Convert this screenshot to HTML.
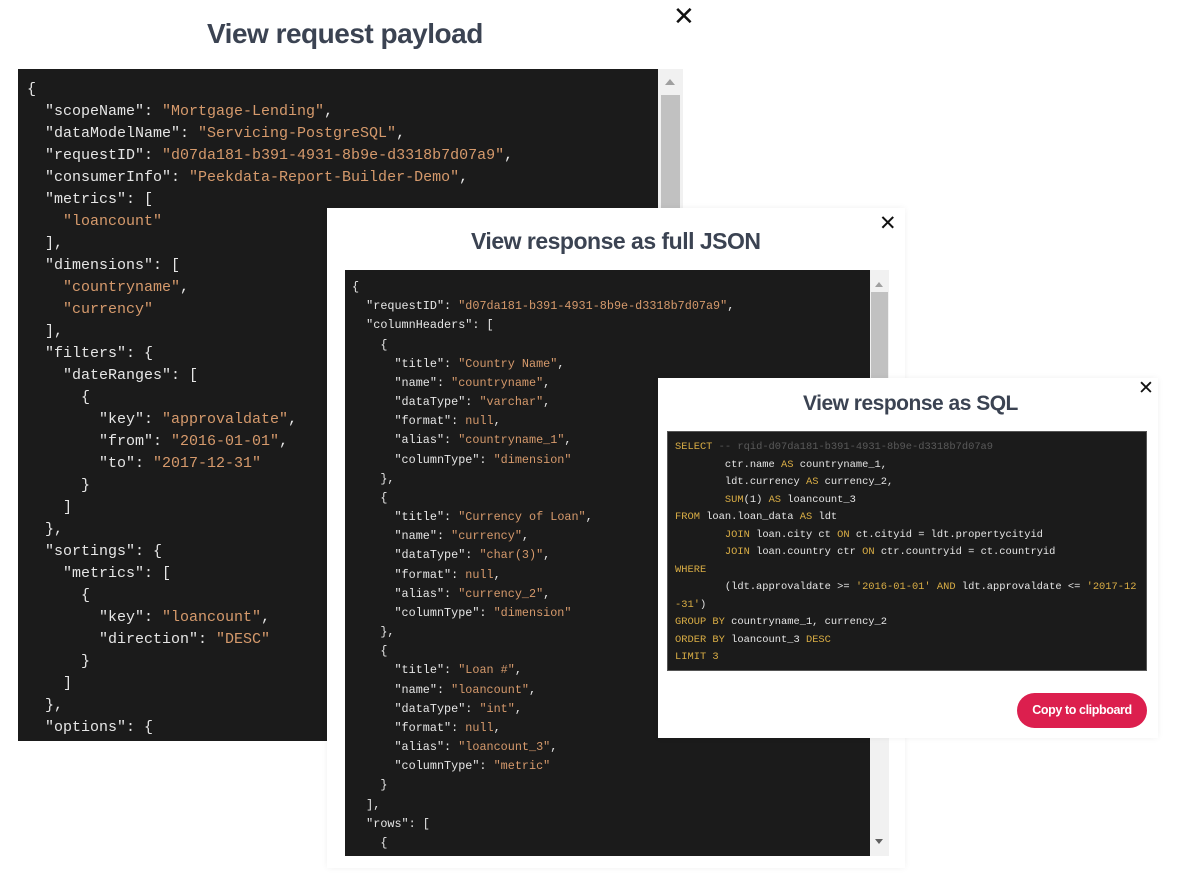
<!DOCTYPE html>
<html><head><meta charset="utf-8"><style>
body{margin:0;width:1200px;height:878px;background:#fff;position:relative;overflow:hidden;font-family:"Liberation Sans",sans-serif}
.t{position:absolute;color:#3b4352;font-weight:bold;letter-spacing:-0.5px;white-space:nowrap}
.x{position:absolute;font-size:26px;color:#111;font-family:"DejaVu Sans",sans-serif;line-height:1}
pre{margin:0;position:absolute;background:#1b1b1b;color:#e6e6e6;font-family:"Liberation Mono",monospace;overflow:hidden;white-space:pre}
.s{color:#d69a6c}.k{color:#d9ad45}.c{color:#5a5a5a}
.sb{position:absolute;background:#f1f1f1}
.th{position:absolute;background:#c1c1c1}
.w{position:absolute;background:#fff;box-shadow:0 0 6px rgba(0,0,0,0.06)}
</style></head><body>
<div class="t" style="left:207px;top:18px;font-size:28px">View request payload</div>
<div class="x" style="left:673px;top:4px">✕</div>
<pre style="left:18px;top:69px;width:640px;height:672px;font-size:15px;line-height:22px;padding:10px 0 0 9px;box-sizing:border-box">{
  "scopeName": <span class="s">"Mortgage-Lending"</span>,
  "dataModelName": <span class="s">"Servicing-PostgreSQL"</span>,
  "requestID": <span class="s">"d07da181-b391-4931-8b9e-d3318b7d07a9"</span>,
  "consumerInfo": <span class="s">"Peekdata-Report-Builder-Demo"</span>,
  "metrics": [
    <span class="s">"loancount"</span>
  ],
  "dimensions": [
    <span class="s">"countryname"</span>,
    <span class="s">"currency"</span>
  ],
  "filters": {
    "dateRanges": [
      {
        "key": <span class="s">"approvaldate"</span>,
        "from": <span class="s">"2016-01-01"</span>,
        "to": <span class="s">"2017-12-31"</span>
      }
    ]
  },
  "sortings": {
    "metrics": [
      {
        "key": <span class="s">"loancount"</span>,
        "direction": <span class="s">"DESC"</span>
      }
    ]
  },
  "options": {</pre>
<div class="sb" style="left:658px;top:69px;width:25px;height:672px"></div>
<div class="th" style="left:661px;top:95px;width:19px;height:646px"></div>
<div style="position:absolute;left:665px;top:79px;width:0;height:0;border-left:5px solid transparent;border-right:5px solid transparent;border-bottom:6px solid #a0a0a0"></div>

<div class="w" style="left:327px;top:208px;width:578px;height:660px"></div>
<div class="t" style="left:471px;top:228px;font-size:23px">View response as full JSON</div>
<div class="x" style="left:879px;top:213px;font-size:21px">✕</div>
<pre style="left:345px;top:270px;width:525px;height:586px;font-size:11.8px;line-height:19.17px;padding:8px 0 0 7px;box-sizing:border-box">{
  "requestID": <span class="s">"d07da181-b391-4931-8b9e-d3318b7d07a9"</span>,
  "columnHeaders": [
    {
      "title": <span class="s">"Country Name"</span>,
      "name": <span class="s">"countryname"</span>,
      "dataType": <span class="s">"varchar"</span>,
      "format": <span class="s">null</span>,
      "alias": <span class="s">"countryname_1"</span>,
      "columnType": <span class="s">"dimension"</span>
    },
    {
      "title": <span class="s">"Currency of Loan"</span>,
      "name": <span class="s">"currency"</span>,
      "dataType": <span class="s">"char(3)"</span>,
      "format": <span class="s">null</span>,
      "alias": <span class="s">"currency_2"</span>,
      "columnType": <span class="s">"dimension"</span>
    },
    {
      "title": <span class="s">"Loan #"</span>,
      "name": <span class="s">"loancount"</span>,
      "dataType": <span class="s">"int"</span>,
      "format": <span class="s">null</span>,
      "alias": <span class="s">"loancount_3"</span>,
      "columnType": <span class="s">"metric"</span>
    }
  ],
  "rows": [
    {</pre>
<div class="sb" style="left:870px;top:270px;width:19px;height:586px"></div>
<div class="th" style="left:871px;top:292px;width:17px;height:90px"></div>
<div style="position:absolute;left:875px;top:282px;border-left:4px solid transparent;border-right:4px solid transparent;border-bottom:5px solid #a0a0a0"></div>
<div style="position:absolute;left:875px;top:839px;border-left:4px solid transparent;border-right:4px solid transparent;border-top:5px solid #606060"></div>

<div class="w" style="left:658px;top:378px;width:500px;height:360px"></div>
<div class="t" style="left:803px;top:392px;font-size:21px">View response as SQL</div>
<div class="x" style="left:1138px;top:379px;font-size:19px">✕</div>
<pre style="left:667px;top:431px;width:480px;height:240px;font-size:10.4px;line-height:17.5px;padding:7px 0 0 7px;box-sizing:border-box;border:1px solid #555"><span class="k">SELECT</span> <span class="c">-- rqid-d07da181-b391-4931-8b9e-d3318b7d07a9</span>
        ctr.name <span class="k">AS</span> countryname_1,
        ldt.currency <span class="k">AS</span> currency_2,
        <span class="k">SUM</span>(1) <span class="k">AS</span> loancount_3
<span class="k">FROM</span> loan.loan_data <span class="k">AS</span> ldt
        <span class="k">JOIN</span> loan.city ct <span class="k">ON</span> ct.cityid = ldt.propertycityid
        <span class="k">JOIN</span> loan.country ctr <span class="k">ON</span> ctr.countryid = ct.countryid
<span class="k">WHERE</span>
        (ldt.approvaldate &gt;= <span class="k">'2016-01-01'</span> <span class="k">AND</span> ldt.approvaldate &lt;= <span class="k">'2017-12</span>
<span class="k">-31'</span>)
<span class="k">GROUP BY</span> countryname_1, currency_2
<span class="k">ORDER BY</span> loancount_3 <span class="k">DESC</span>
<span class="k">LIMIT 3</span></pre>
<div style="position:absolute;left:1017px;top:693px;width:130px;height:35px;border-radius:18px;background:#dc1f4e;color:#fff;font-size:12.5px;font-weight:bold;letter-spacing:-0.4px;text-align:center;line-height:35px">Copy to clipboard</div>
</body></html>
